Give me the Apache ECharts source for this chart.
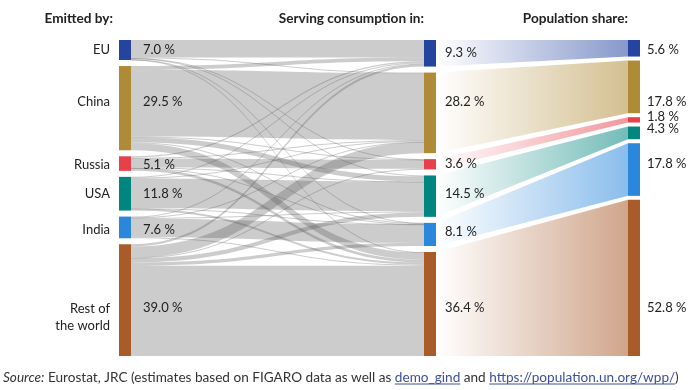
<!DOCTYPE html>
<html>
<head>
<meta charset="utf-8">
<script src="https://cdn.jsdelivr.net/npm/echarts@6/dist/echarts.min.js"></script>
<style>html,body{margin:0;padding:0;background:#fff}#chart{width:700px;height:390px}</style>
</head>
<body>
<div id="chart"></div>
<script>
// ---------- data ----------
const regions = ['EU', 'China', 'Russia', 'USA', 'India', 'Rest of the world'];
const regionLabels = ['EU', 'China', 'Russia', 'USA', 'India', 'Rest of\nthe world'];
const columnTitles = ['Emitted by:', 'Serving consumption in:', 'Population share:'];
const emittedShare = [7.0, 29.5, 5.1, 11.8, 7.6, 39.0];
const consumptionShare = [9.3, 28.2, 3.6, 14.5, 8.1, 36.4];
const populationShare = [5.6, 17.8, 1.8, 4.3, 17.8, 52.8];
// estimated flows: emitter -> consuming region (order of `regions`)
const flowsFromEU     = [6.1, 0.2, 0.1, 0.3, 0.1, 0.2];
const flowsFromChina  = [1.3, 23.4, 0.2, 1.8, 0.3, 2.5];
const flowsFromRussia = [0.5, 0.3, 3.1, 0.1, 0.1, 1.0];
const flowsFromUSA    = [0.3, 0.3, 0.0, 10.4, 0.1, 0.7];
const flowsFromIndia  = [0.3, 0.1, 0.0, 0.4, 6.4, 0.4];
const flowsFromRest   = [0.8, 3.9, 0.2, 1.5, 1.1, 31.6];
const flowRows = [flowsFromEU, flowsFromChina, flowsFromRussia, flowsFromUSA, flowsFromIndia, flowsFromRest];
const sourceParts = [
  {text: 'Source:', italic: true},
  {text: ' Eurostat, JRC (estimates based on FIGARO data as well as '},
  {text: 'demo_gind', link: true},
  {text: ' and '},
  {text: 'https://population.un.org/wpp/', link: true},
  {text: ')'}
];

// ---------- style / layout ----------
const regionColors = ['#2444a0', '#b08b37', '#e6404a', '#00857f', '#2a87dc', '#a95c2a'];
const FONT = 'Lato';
const TEXT = '#222';
const PLOT_TOP = 40, PLOT_H = 316;
const LEFT_X = 119, MID_X = 424, RIGHT_X = 628, NODE_W = 12;
const GAP_LM = 6, GAP_R = 4;
const nameDy = [0, -6, 1, 0, 2, 17];
const leftPctDy = [0, -6, 1, 0, 2, 8];
const midPctDy = [0, -11, 0, -2, -3, 4];
const rightPctDy = [2, 15, -3, -4, -6, 30];

function pct(v) { return v.toFixed(1) + ' %'; }
function rgba(hex, a) {
  const n = parseInt(hex.slice(1), 16);
  return 'rgba(' + (n >> 16) + ',' + ((n >> 8) & 255) + ',' + (n & 255) + ',' + a + ')';
}
const sum = a => a.reduce((s, v) => s + v, 0);

// vertical layout in "share units" (y axis)
const colTotal = sum(consumptionShare);
const gapU = GAP_LM * colTotal / (PLOT_H - 5 * GAP_LM);
const TOTAL_U = colTotal + 5 * gapU;
const gapRU = GAP_R * TOTAL_U / PLOT_H;
const scaleR = (TOTAL_U - 5 * gapRU) / sum(populationShare);
function stack(values, gap, scale) {
  let acc = 0;
  return values.map((v, i) => {
    const top = acc; const bot = acc + v * scale;
    acc = bot + gap;
    return [top, bot];
  });
}
const leftPos = stack(flowRows.map(sum), gapU, 1);
const midPos = stack(consumptionShare, gapU, 1);
const rightPos = stack(populationShare, gapRU, scaleR);

// ---------- sankey data ----------
const sankeyNodes = [];
regions.forEach((r, i) => sankeyNodes.push({name: 'emit:' + r, depth: 0, itemStyle: {color: regionColors[i]}}));
regions.forEach((r, i) => sankeyNodes.push({name: 'cons:' + r, depth: 1, itemStyle: {color: regionColors[i]}}));
const sankeyLinks = [];
flowRows.forEach((row, i) => row.forEach((v, j) => {
  if (v > 0) sankeyLinks.push({source: 'emit:' + regions[i], target: 'cons:' + regions[j], value: v});
}));

// ---------- graphic texts ----------
const graphics = [];
const titleX = [LEFT_X - 6, MID_X, RIGHT_X];
columnTitles.forEach((t, k) => graphics.push({
  type: 'text', x: titleX[k], y: 19,
  style: {text: t, fill: TEXT, font: 'bold 13.6px ' + FONT, align: 'right', verticalAlign: 'middle'}
}));
const mctx = document.createElement('canvas').getContext('2d');
let sx = 3;
const SY = 378;
sourceParts.forEach(p => {
  const font = (p.italic ? 'italic ' : '') + '13.6px ' + FONT;
  mctx.font = font;
  const w = mctx.measureText(p.text).width;
  const col = p.link ? '#3d4f9c' : '#333';
  graphics.push({type: 'text', x: sx, y: SY,
    style: {text: p.text, fill: col, font: font, align: 'left', verticalAlign: 'middle'}});
  if (p.link) graphics.push({type: 'line', shape: {x1: sx, y1: SY + 6, x2: sx + w, y2: SY + 6},
    style: {stroke: col, lineWidth: 1}});
  sx += w;
});

const chart = echarts.init(document.getElementById('chart'), null, {renderer: 'canvas'});
chart.setOption({
  animation: false,
  backgroundColor: '#fff',
  grid: {left: 0, right: 0, top: PLOT_TOP, height: PLOT_H, show: false},
  xAxis: {type: 'value', min: 0, max: 700, show: false},
  yAxis: {type: 'value', min: 0, max: TOTAL_U, inverse: true, show: false},
  graphic: graphics,
  series: [
    {
      type: 'sankey',
      left: LEFT_X, top: PLOT_TOP, width: MID_X + NODE_W - LEFT_X, height: PLOT_H,
      nodeWidth: NODE_W, nodeGap: GAP_LM, layoutIterations: 0, draggable: false,
      emphasis: {disabled: true},
      label: {show: false},
      itemStyle: {borderWidth: 0},
      lineStyle: {color: '#555', opacity: 0.3, curveness: 0.5},
      data: sankeyNodes,
      links: sankeyLinks,
      z: 2
    },
    {
      type: 'custom',
      coordinateSystem: 'cartesian2d',
      clip: false,
      silent: true,
      data: regions.map((r, i) => [i, 0]),
      renderItem: function (params, api) {
        const i = params.dataIndex;
        const c = regionColors[i];
        const mTop = api.coord([MID_X + NODE_W, midPos[i][0]]);
        const mBot = api.coord([MID_X + NODE_W, midPos[i][1]]);
        const rTop = api.coord([RIGHT_X, rightPos[i][0]]);
        const rBot = api.coord([RIGHT_X, rightPos[i][1]]);
        const lMid = api.coord([LEFT_X, (leftPos[i][0] + leftPos[i][1]) / 2]);
        const mMid = (mTop[1] + mBot[1]) / 2;
        const rMid = (rTop[1] + rBot[1]) / 2;
        const txt = (x, y, s, align) => ({
          type: 'text',
          style: {x: x, y: y, text: s, fill: TEXT, fontSize: 13, fontFamily: FONT,
                  align: align, verticalAlign: 'middle', lineHeight: 17}
        });
        return {
          type: 'group',
          children: [
            {
              type: 'polygon',
              shape: {points: [mTop, rTop, rBot, mBot]},
              style: {fill: new echarts.graphic.LinearGradient(0, 0, 1, 0, [
                {offset: 0, color: rgba(c, 0)}, {offset: 1, color: rgba(c, 0.55)}])}
            },
            {
              type: 'rect',
              shape: {x: rTop[0], y: rTop[1], width: NODE_W, height: rBot[1] - rTop[1]},
              style: {fill: c}
            },
            txt(LEFT_X - 9, lMid[1] + nameDy[i], regionLabels[i], 'right'),
            txt(LEFT_X + NODE_W + 12, lMid[1] + leftPctDy[i], pct(emittedShare[i]), 'left'),
            txt(MID_X + NODE_W + 9, mMid + midPctDy[i], pct(consumptionShare[i]), 'left'),
            txt(RIGHT_X + NODE_W + 7, rMid + rightPctDy[i], pct(populationShare[i]), 'left')
          ]
        };
      },
      z: 3
    }
  ]
});
</script>
</body>
</html>
